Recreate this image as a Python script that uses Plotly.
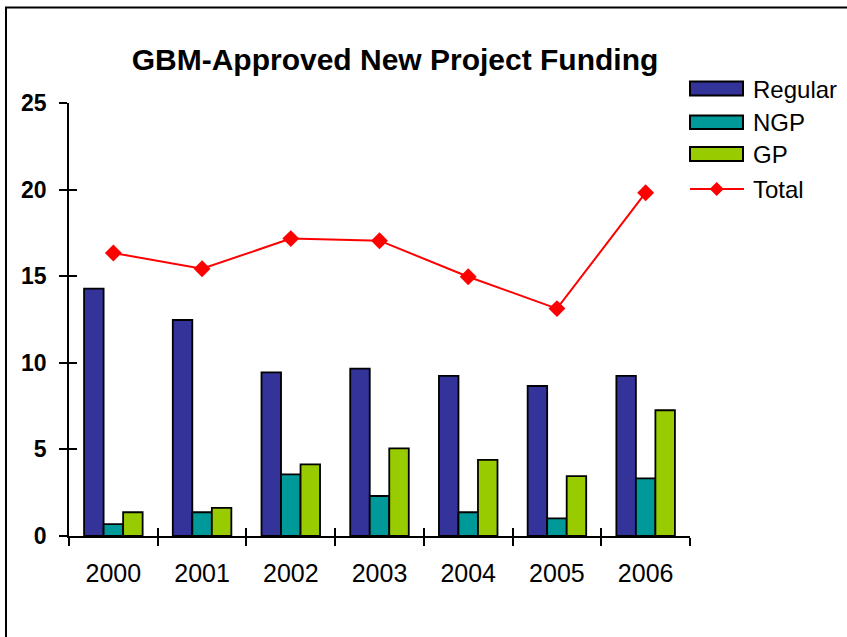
import plotly.graph_objects as go

years = ["2000", "2001", "2002", "2003", "2004", "2005", "2006"]
regular = [14.28, 12.47, 9.45, 9.66, 9.24, 8.66, 9.24]
ngp = [0.69, 1.37, 3.56, 2.31, 1.37, 1.02, 3.33]
gp = [1.37, 1.62, 4.14, 5.06, 4.39, 3.46, 7.26]
total = [16.34, 15.43, 17.17, 17.05, 14.97, 13.13, 19.82]
y_ticks = [0, 5, 10, 15, 20, 25]

series_names = ["Regular", "NGP", "GP", "Total"]
colors = ["#333399", "#009999", "#99CC00", "#FF0000"]

W, H = 847, 637
L, R, T, B = 69, 157, 103, 101
PW, PH = W - L - R, H - T - B

def px(x):
    return (x - L) / PW

def py(y):
    return (H - B - y) / PH

FONT = "Liberation Sans, Arial, sans-serif"

fig = go.Figure()
for name, vals, col in zip(series_names[:3], [regular, ngp, gp], colors[:3]):
    fig.add_trace(go.Bar(x=years, y=vals, name=name, marker_color=col,
                         marker_line=dict(color="black", width=1.8),
                         showlegend=False))
fig.add_trace(go.Scatter(x=years, y=total, name="Total", mode="lines+markers",
                         line=dict(color=colors[3], width=2),
                         marker=dict(symbol="diamond", size=13, color=colors[3]),
                         showlegend=False))
# helper invisible trace for crossing tick marks
fig.add_trace(go.Scatter(x=[-0.5], y=[0], xaxis="x2", yaxis="y2", mode="markers",
                         marker=dict(opacity=0), showlegend=False, hoverinfo="skip"))

fig.update_layout(
    width=W, height=H,
    margin=dict(l=L, r=R, t=T, b=B, autoexpand=False),
    paper_bgcolor="white", plot_bgcolor="white",
    barmode="group", bargap=0.34, bargroupgap=0,
    title=dict(text="GBM-Approved New Project Funding", xref="container", yref="container",
               x=395 / W, y=1 - 59 / H, xanchor="center", yanchor="middle",
               font=dict(family=FONT, size=30, color="black", weight="bold")),
    xaxis=dict(type="category", range=[-0.5, 6.5], showline=True, linecolor="black", linewidth=1.5,
               ticks="outside", ticklen=8, tickwidth=1.5, tickcolor="black", tickson="boundaries",
               showgrid=False, zeroline=False, ticklabelstandoff=14,
               tickfont=dict(family=FONT, size=25, color="black")),
    yaxis=dict(range=[0, 25], tickvals=y_ticks, showline=True, linecolor="black", linewidth=1.5,
               ticks="outside", ticklen=8, tickwidth=1.5, tickcolor="black",
               showgrid=False, zeroline=False, ticklabelstandoff=8,
               tickfont=dict(family=FONT, size=23, color="black", weight="bold")),
    xaxis2=dict(overlaying="x", range=[-0.5, 6.5], tickvals=[i - 0.5 for i in range(8)],
                ticks="inside", ticklen=8, tickwidth=1.5, tickcolor="black", showticklabels=False,
                showline=False, showgrid=False, zeroline=False, side="bottom", anchor="y2"),
    yaxis2=dict(overlaying="y", range=[0, 25], tickvals=y_ticks, ticks="inside", ticklen=8,
                tickwidth=1.5, tickcolor="black", showticklabels=False, showline=False,
                showgrid=False, zeroline=False, side="left", anchor="x2"),
)

shapes = []
# outer frame
shapes.append(dict(type="rect", xref="paper", yref="paper", x0=px(6), x1=px(870), y0=py(7.5), y1=py(660),
                   line=dict(color="black", width=2), fillcolor="rgba(0,0,0,0)", layer="below"))
annotations = []
leg_rows = [(81.5, 95.5, 89), (115.5, 129, 122.7), (147, 161, 154.5)]
for (y0, y1, yt), name, col in zip(leg_rows, series_names[:3], colors[:3]):
    shapes.append(dict(type="rect", xref="paper", yref="paper", x0=px(690), x1=px(743), y0=py(y0), y1=py(y1),
                       line=dict(color="black", width=2), fillcolor=col))
    annotations.append(dict(text=name, xref="paper", yref="paper", x=px(751), y=py(yt), xanchor="left",
                            yanchor="middle", showarrow=False,
                            font=dict(family=FONT, size=24, color="black")))
ty = 189
shapes.append(dict(type="line", xref="paper", yref="paper", x0=px(690), x1=px(744), y0=py(ty), y1=py(ty),
                   line=dict(color=colors[3], width=2)))
cx, d = 716.7, 7
shapes.append(dict(type="path", xref="paper", yref="paper",
                   path=f"M {px(cx - d)},{py(ty)} L {px(cx)},{py(ty - d)} L {px(cx + d)},{py(ty)} L {px(cx)},{py(ty + d)} Z",
                   line=dict(color=colors[3], width=0), fillcolor=colors[3]))
annotations.append(dict(text="Total", xref="paper", yref="paper", x=px(751), y=py(ty), xanchor="left",
                        yanchor="middle", showarrow=False, font=dict(family=FONT, size=24, color="black")))
fig.update_layout(shapes=shapes, annotations=annotations)

fig.write_html("out.html", config={"displayModeBar": False},
               post_script="document.body.style.margin='0px';document.body.style.padding='0px';")
